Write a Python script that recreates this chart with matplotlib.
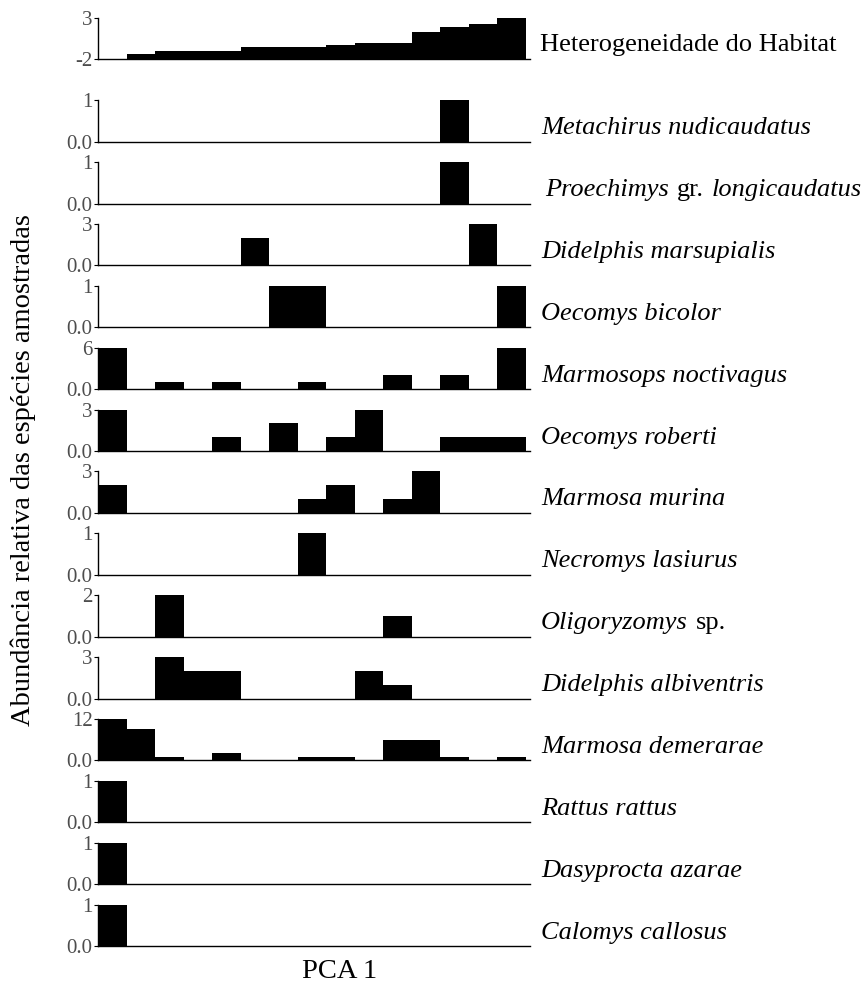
import numpy as np
import matplotlib
matplotlib.use("Agg")
import matplotlib.pyplot as plt

plt.rcParams['font.family'] = ['Liberation Serif', 'DejaVu Serif']

# 15 sites ordered along PCA 1
sites = np.arange(1, 16)

habitat = [-2.0, -1.4, -1.0, -1.0, -1.0, -0.5, -0.5, -0.5, -0.3, -0.07, -0.07, 1.3, 1.9, 2.2, 3.0]

species = [
    "Metachirus nudicaudatus",
    "Proechimys gr. longicaudatus",
    "Didelphis marsupialis",
    "Oecomys bicolor",
    "Marmosops noctivagus",
    "Oecomys roberti",
    "Marmosa murina",
    "Necromys lasiurus",
    "Oligoryzomys sp.",
    "Didelphis albiventris",
    "Marmosa demerarae",
    "Rattus rattus",
    "Dasyprocta azarae",
    "Calomys callosus",
]

metachirus = [0, 0, 0, 0, 0, 0, 0, 0, 0, 0, 0, 0, 1, 0, 0]
proechimys = [0, 0, 0, 0, 0, 0, 0, 0, 0, 0, 0, 0, 1, 0, 0]
d_marsupialis = [0, 0, 0, 0, 0, 2, 0, 0, 0, 0, 0, 0, 0, 3, 0]
o_bicolor = [0, 0, 0, 0, 0, 0, 1, 1, 0, 0, 0, 0, 0, 0, 1]
marmosops = [6, 0, 1, 0, 1, 0, 0, 1, 0, 0, 2, 0, 2, 0, 6]
o_roberti = [3, 0, 0, 0, 1, 0, 2, 0, 1, 3, 0, 0, 1, 1, 1]
m_murina = [2, 0, 0, 0, 0, 0, 0, 1, 2, 0, 1, 3, 0, 0, 0]
necromys = [0, 0, 0, 0, 0, 0, 0, 1, 0, 0, 0, 0, 0, 0, 0]
oligoryzomys = [0, 0, 2, 0, 0, 0, 0, 0, 0, 0, 1, 0, 0, 0, 0]
d_albiventris = [0, 0, 3, 2, 2, 0, 0, 0, 0, 2, 1, 0, 0, 0, 0]
m_demerarae = [12, 9, 1, 0, 2, 0, 0, 1, 1, 0, 6, 6, 1, 0, 1]
rattus = [1, 0, 0, 0, 0, 0, 0, 0, 0, 0, 0, 0, 0, 0, 0]
dasyprocta = [1, 0, 0, 0, 0, 0, 0, 0, 0, 0, 0, 0, 0, 0, 0]
calomys = [1, 0, 0, 0, 0, 0, 0, 0, 0, 0, 0, 0, 0, 0, 0]

abund = [metachirus, proechimys, d_marsupialis, o_bicolor, marmosops, o_roberti,
         m_murina, necromys, oligoryzomys, d_albiventris, m_demerarae,
         rattus, dasyprocta, calomys]

W, H = 866, 984
fig = plt.figure(figsize=(W / 100, H / 100), dpi=100)

left_px, right_px = 98, 530
panel_h = 41.5
tick_col = "#4d4d4d"
lab_fs = 19


def style(ax, lo, hi, labels):
    ax.set_xlim(0.5, 15.65)
    ax.set_ylim(lo, hi)
    for s in ["top", "right"]:
        ax.spines[s].set_visible(False)
    ax.spines["left"].set_linewidth(1.0)
    ax.spines["bottom"].set_linewidth(1.0)
    ax.spines["left"].set_bounds(lo, hi)
    ax.set_xticks([])
    ax.set_yticks([lo, hi])
    ax.set_yticklabels(labels)
    ax.tick_params(axis="y", length=3, width=0.8, pad=1, labelsize=15,
                   labelcolor=tick_col)
    ax.patch.set_alpha(0)


def make_ax(base_px):
    return fig.add_axes([left_px / W, 1 - base_px / H,
                         (right_px - left_px) / W, panel_h / H])


def mixed(x_px, y, parts):
    # parts: list of (text, italic) drawn side by side
    x = x_px
    for txt, ital in parts:
        t = fig.text(x / W, y, txt, fontsize=lab_fs, va="center", ha="left",
                     style="italic" if ital else "normal")
        fig.canvas.draw()
        x = t.get_window_extent().x1 + 8


# habitat panel
ax = make_ax(59.3)
hab = np.array(habitat)
ax.bar(sites, hab + 2, bottom=-2, width=1.0, color="black")
style(ax, -2, 3, ["-2", "3"])
fig.text(540 / W, 1 - 45 / H, "Heterogeneidade do Habitat", fontsize=lab_fs,
         va="center", ha="left")

# species panels
for i, (name, vals) in enumerate(zip(species, abund)):
    base = 141.7 + i * 61.87
    ax = make_ax(base)
    ax.bar(sites, vals, width=1.0, color="black")
    top = max(vals)
    style(ax, 0, top, ["0.0", str(top)])
    y = 1 - (base - 13.5) / H
    if " gr. " in name:
        a, b = name.split(" gr. ")
        mixed(545, y, [(a, True), ("gr.", False), (b, True)])
    elif name.endswith(" sp."):
        mixed(541, y, [(name[:-4], True), ("sp.", False)])
    else:
        fig.text(541 / W, y, name, fontsize=lab_fs, style="italic",
                 va="center", ha="left")

fig.text(23 / W, 1 - 470 / H, "Abundância relativa das espécies amostradas",
         fontsize=20.5, rotation=90, va="center", ha="center")
fig.text(340 / W, 1 - 972 / H, "PCA 1", fontsize=20.5, va="center", ha="center")

fig.savefig("out.png", dpi=100)
